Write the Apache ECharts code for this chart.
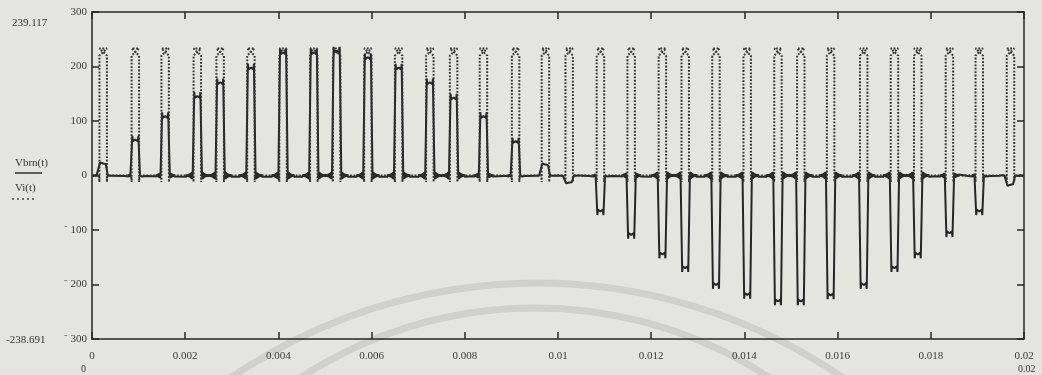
<!DOCTYPE html>
<html>
<head>
<meta charset="utf-8">
<script src="https://cdn.jsdelivr.net/npm/echarts@6/dist/echarts.min.js"></script>
<style>
  html, body { margin: 0; padding: 0; background: #e4e4e1; }
  #chart { width: 1042px; height: 375px; }
</style>
</head>
<body>
<div id="chart"></div>
<script>
// centre time of every switching pulse (s)
const pulseTimes = [0.00024, 0.00093, 0.00157, 0.00226, 0.00275, 0.00341, 0.00410, 0.00476,
  0.00525, 0.00592, 0.00658, 0.00725, 0.00776, 0.00840, 0.00909, 0.00973,
  0.01024, 0.01091, 0.01157, 0.01224, 0.01273, 0.01339, 0.01406, 0.01472,
  0.01521, 0.01585, 0.01656, 0.01722, 0.01772, 0.01840, 0.01904, 0.01971]
// level reached by Vbrn(t) during each pulse (V)
const vbrnLevels = [22, 66, 109, 146, 171, 198, 226, 226,
  229, 217, 198, 171, 143, 109, 63, 20,
  -13, -66, -109, -145, -170, -201, -219, -231,
  -231, -220, -201, -170, -145, -106, -66, -17]
// Vi(t) pulse top and the small dip under each of its edges (V)
const viLevel = 226
const viDip = -12
// ringing seen on the base line next to each edge (V)
const edgeRing = [7, -7, 6.5, -6.3, 6, -5.6, 5.2, -4.9, 4.6, -4.3, 4, -3.8, 3.6, -3.4, 3.2, -3.1,
  3, -2.9, 2.8, -2.7, 2.6, -2.5, 2.5, -2.4, 2.4, -2.3, 2.3, -2.2, 2.2, -2.2]
const xRange = [0, 0.02]
const yRange = [-300, 300]

const W_BASE = 0.0002    // pulse width at the base line
const W_TOP = 0.00013    // pulse width at the top
const W_VI = 0.00016
const RING_STEP = 0.0000045

function buildVbrn() {
  const d = [[0, 0]]
  pulseTimes.forEach((c, i) => {
    const h = vbrnLevels[i]
    const s = Math.sign(h)
    const k = Math.min(1, Math.abs(h) / 150)
    const os = s * Math.min(7, Math.abs(h) * 0.1)
    const a = c - W_BASE / 2, b = c + W_BASE / 2
    const ta = c - W_TOP / 2, tb = c + W_TOP / 2
    for (let j = edgeRing.length - 1; j >= 0; j--) d.push([a - (j + 1) * RING_STEP, edgeRing[j] * k])
    d.push([a, 0])
    d.push([ta, h + os], [ta + 0.00001, h - os * 0.5], [c, h], [tb - 0.00001, h - os * 0.5], [tb, h + os])
    d.push([b, 0])
    for (let j = 0; j < edgeRing.length; j++) d.push([b + (j + 1) * RING_STEP, edgeRing[j] * k])
  })
  d.push([xRange[1], 0])
  return d
}

function buildVi() {
  const d = [[0, 0]]
  pulseTimes.forEach(c => {
    const a = c - W_VI / 2, b = c + W_VI / 2
    d.push([a - 0.00001, 0], [a, viDip], [a, viLevel - 6], [b, viLevel + 7], [a, viLevel + 7],
      [b, viLevel - 6], [b, viDip], [b + 0.00001, 0])
  })
  d.push([xRange[1], 0])
  return d
}

const ink = '#262626'
const labelFont = { color: '#3a3a3a', fontFamily: 'Liberation Serif', fontSize: 11 }
const frame = { show: true, onZero: false, lineStyle: { color: ink, width: 1.5 } }
const tick = { show: true, inside: true, length: 7, lineStyle: { color: ink, width: 1.5 } }
const serif = '11px "Liberation Serif"'

const chart = echarts.init(document.getElementById('chart'))
chart.setOption({
  animation: false,
  backgroundColor: '#e4e4e1',
  grid: { left: 92, right: 18, top: 12, bottom: 36 },
  xAxis: [
    {
      type: 'value', min: xRange[0], max: xRange[1], interval: 0.002, position: 'bottom',
      axisLine: frame, axisTick: tick, splitLine: { show: false },
      axisLabel: Object.assign({ margin: 12, showMinLabel: true, showMaxLabel: true }, labelFont)
    },
    {
      type: 'value', min: xRange[0], max: xRange[1], interval: 0.002, position: 'top',
      axisLine: frame, axisTick: tick, splitLine: { show: false }, axisLabel: { show: false }
    }
  ],
  yAxis: [
    {
      type: 'value', min: yRange[0], max: yRange[1], interval: 100, position: 'left',
      axisLine: frame, axisTick: tick, splitLine: { show: false },
      axisLabel: Object.assign({
        margin: 5, padding: [8, 0, 0, 0],
        formatter: v => v < 0 ? '\u207B ' + (-v) : String(v)
      }, labelFont)
    },
    {
      type: 'value', min: yRange[0], max: yRange[1], interval: 100, position: 'right',
      axisLine: frame, axisTick: tick, splitLine: { show: false }, axisLabel: { show: false }
    }
  ],
  graphic: [
    // faint stamp arcs printed over the scan
    { type: 'arc', silent: true, z: -10, shape: { cx: 537, cy: 825, r: 542, startAngle: Math.PI * 1.2, endAngle: Math.PI * 1.8 },
      style: { stroke: '#d0d0cd', lineWidth: 7, fill: null } },
    { type: 'arc', silent: true, z: -10, shape: { cx: 535, cy: 737, r: 429, startAngle: Math.PI * 1.2, endAngle: Math.PI * 1.8 },
      style: { stroke: '#d0d0cd', lineWidth: 7, fill: null } },
    { type: 'text', left: 15, top: 158, style: { text: 'Vbrn(t)', fill: '#333', font: serif } },
    { type: 'line', shape: { x1: 15, y1: 173, x2: 42, y2: 173 }, style: { stroke: '#333', lineWidth: 1.5 } },
    { type: 'text', left: 15, top: 183, style: { text: 'Vi(t)', fill: '#333', font: serif } },
    { type: 'line', shape: { x1: 12, y1: 199, x2: 37, y2: 199 }, style: { stroke: '#444', lineWidth: 1.5, lineDash: [2, 3] } },
    { type: 'text', left: 12, top: 18, style: { text: '239.117', fill: '#333', font: serif } },
    { type: 'text', left: 6, top: 335, style: { text: '-238.691', fill: '#333', font: serif } },
    { type: 'text', left: 81, top: 364, style: { text: '0', fill: '#333', font: '10px "Liberation Serif"' } },
    { type: 'text', left: 1018, top: 364, style: { text: '0.02', fill: '#333', font: '10px "Liberation Serif"' } }
  ],
  series: [
    {
      name: 'Vbrn(t)', type: 'line', showSymbol: false, data: buildVbrn(),
      xAxisIndex: 0, yAxisIndex: 0,
      lineStyle: { color: ink, width: 2 }
    },
    {
      name: 'Vi(t)', type: 'line', showSymbol: false, data: buildVi(),
      xAxisIndex: 0, yAxisIndex: 0,
      lineStyle: { color: '#333', width: 2, type: [1.8, 1.6], cap: 'butt' }
    }
  ]
})
</script>
</body>
</html>
